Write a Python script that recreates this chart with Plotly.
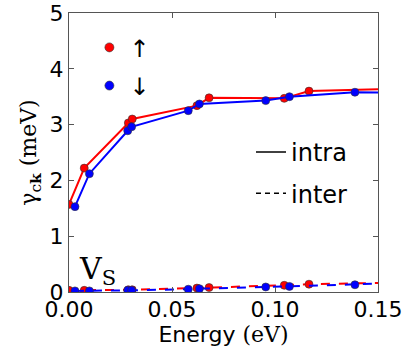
import plotly.graph_objects as go

# energies (eV) of the sampled points
energy_up = [0.0, 0.0074, 0.0288, 0.0307, 0.0621, 0.068, 0.1045, 0.1165, 0.155]
energy_dn = [0.0029, 0.0099, 0.0285, 0.0304, 0.0579, 0.0633, 0.0955, 0.107, 0.1388, 0.155]

# gamma_ck (meV)
intra_up = [1.57, 2.22, 3.03, 3.10, 3.34, 3.48, 3.47, 3.60, 3.64]
intra_dn = [1.53, 2.12, 2.89, 2.96, 3.25, 3.37, 3.43, 3.50, 3.58, 3.57]
inter_up = [0.03, 0.03, 0.04, 0.04, 0.07, 0.08, 0.12, 0.14, 0.165]
inter_dn = [0.02, 0.02, 0.03, 0.03, 0.05, 0.06, 0.09, 0.10, 0.13, 0.155]

x_ticks = [0.0, 0.05, 0.10, 0.15]
x_labels = ["0.00", "0.05", "0.10", "0.15"]
y_ticks = [0, 1, 2, 3, 4, 5]

RED = "#ff0000"
BLUE = "#0000ff"
FONT = "DejaVu Sans"
SERIF = "DejaVu Serif"

fig = go.Figure()

def add_series(x, y, color, dash):
    fig.add_trace(go.Scatter(
        x=x, y=y, mode="lines+markers", showlegend=False, cliponaxis=True,
        line=dict(color=color, width=2, dash=dash),
        marker=dict(color=color, size=8, line=dict(color="#333333", width=0.6)),
    ))

add_series(energy_up, inter_up, RED, "dash")
add_series(energy_dn, inter_dn, BLUE, "dash")
add_series(energy_up, intra_up, RED, "solid")
add_series(energy_dn, intra_dn, BLUE, "solid")

# legend entries: spin
fig.add_trace(go.Scatter(x=[None], y=[None], mode="markers", name="↑", legendgroup="up",
                         marker=dict(color=RED, size=9, line=dict(color="#333333", width=0.6)),
                         legend="legend"))
fig.add_trace(go.Scatter(x=[None], y=[None], mode="markers", name="↓", legendgroup="dn",
                         marker=dict(color=BLUE, size=9, line=dict(color="#333333", width=0.6)),
                         legend="legend"))
# legend entries: line style
fig.add_trace(go.Scatter(x=[None], y=[None], mode="lines", name="intra", legendgroup="intra",
                         line=dict(color="black", width=1.5), legend="legend2"))
fig.add_trace(go.Scatter(x=[None], y=[None], mode="lines", name="inter", legendgroup="inter",
                         line=dict(color="black", width=1.5, dash="5px,4px"), legend="legend2"))

fig.add_annotation(text="V<sub>S</sub>", xref="paper", yref="paper", x=0.025, y=0.0,
                   xanchor="left", yanchor="bottom", showarrow=False,
                   font=dict(family=SERIF, size=30, color="black"))

axis_common = dict(
    showline=True, linecolor="#555555", linewidth=1, mirror="ticks",
    ticks="inside", ticklen=5, tickcolor="#555555", showgrid=False, zeroline=False,
    tickfont=dict(family=FONT, size=22, color="black"), automargin=False,
    ticklabeloverflow="allow",
)

fig.update_xaxes(range=[0, 0.15], tickvals=x_ticks, ticktext=x_labels,
                 ticklabelstandoff=-2,
                 title=dict(text="Energy <span style='font-family:DejaVu Serif'>(eV)</span>",
                            font=dict(family=FONT, size=22, color="black"), standoff=0),
                 **axis_common)
fig.update_yaxes(range=[0, 5], tickvals=y_ticks, ticklabelstandoff=0,
                 title=dict(text="γ<sub>c<b>k</b></sub> (meV)",
                            font=dict(family=SERIF, size=22, color="black"), standoff=6),
                 **axis_common)

fig.update_layout(
    width=407, height=349,
    margin=dict(l=69, r=29, t=13, b=57, autoexpand=False),
    plot_bgcolor="white", paper_bgcolor="white",
    legend=dict(x=0.066, y=0.956, xanchor="left", yanchor="top", bgcolor="rgba(0,0,0,0)",
                font=dict(family=FONT, size=24, color="black"), itemwidth=30,
                traceorder="grouped", tracegroupgap=4),
    legend2=dict(x=0.589, y=0.581, xanchor="left", yanchor="top", bgcolor="rgba(0,0,0,0)",
                 font=dict(family=FONT, size=24, color="black"), itemwidth=30,
                 traceorder="grouped", tracegroupgap=7),
)

# drop the page's default body margin so the figure fills the window
fig.write_html("out.html", config={"displayModeBar": False},
               post_script="document.body.style.margin = '0';")
